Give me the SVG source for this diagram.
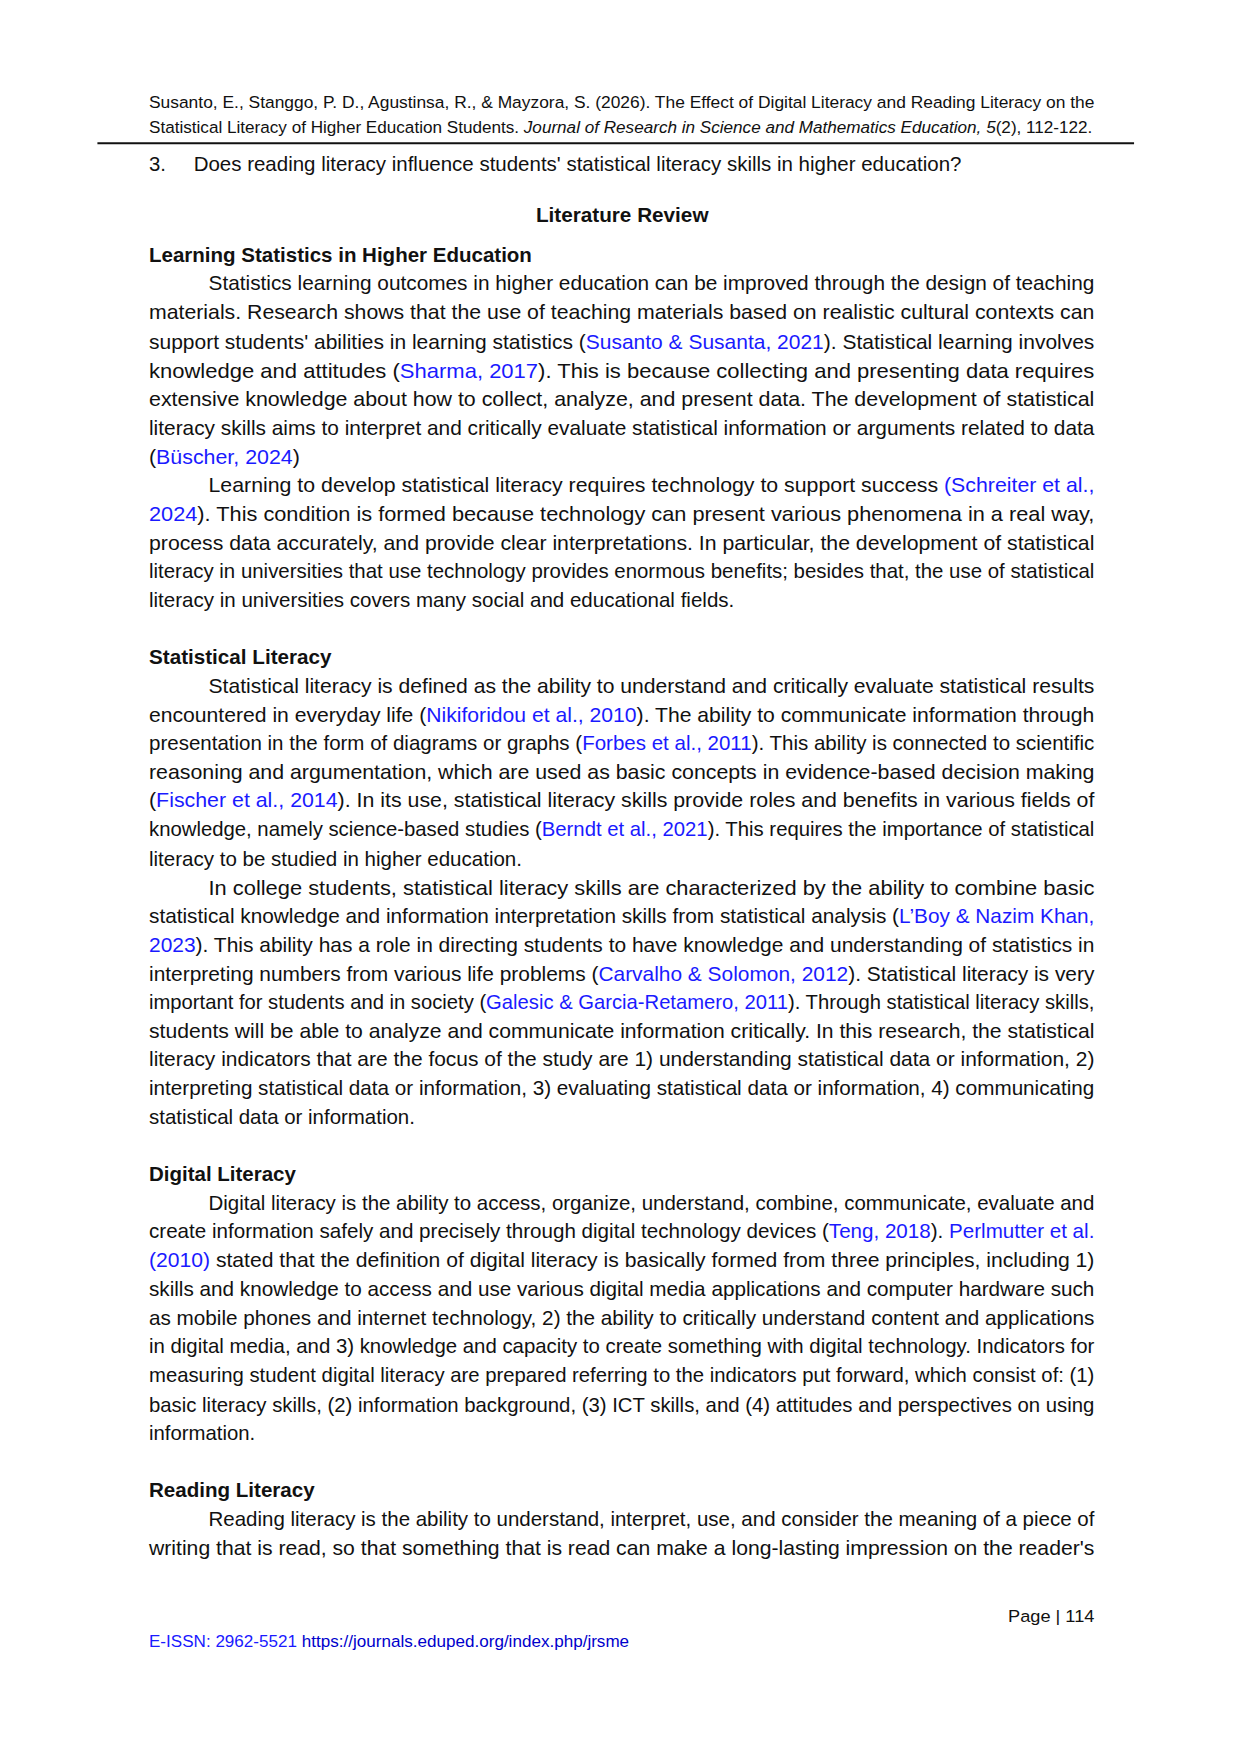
<svg xmlns="http://www.w3.org/2000/svg" width="1241" height="1753" viewBox="0 0 1241 1753">
<style>
text{font-family:"Liberation Sans",Arial,sans-serif;fill:#111;}
.b{font-size:20.5px;}
.h{font-size:20.5px;font-weight:bold;}
.hd{font-size:17.5px;}
.l{fill:#1a1aff;}
.i{font-style:italic;}
</style>
<rect width="1241" height="1753" fill="#fff"/>
<g transform="translate(149,0) scale(0.992) translate(-149,0)">
<g id="header">
<text class="hd" x="149" y="108.9" textLength="953" lengthAdjust="spacingAndGlyphs">Susanto, E., Stanggo, P. D., Agustinsa, R., &amp; Mayzora, S. (2026). The Effect of Digital Literacy and Reading Literacy on the</text>
<text class="hd" x="149" y="133.7" textLength="951" lengthAdjust="spacingAndGlyphs">Statistical Literacy of Higher Education Students. <tspan class="i">Journal of Research in Science and Mathematics Education, 5</tspan>(2), 112-122.</text>
<line x1="97" y1="144.4" x2="1142" y2="144.4" stroke="#111" stroke-width="2"/>
</g>
<g id="body">
<text class="b" x="149" y="172">3.</text>
<text class="b" x="194" y="172" textLength="774" lengthAdjust="spacingAndGlyphs">Does reading literacy influence students' statistical literacy skills in higher education?</text>
<text class="h" x="539" y="223.9" textLength="174" lengthAdjust="spacingAndGlyphs">Literature Review</text>
<text class="h" x="149" y="264.5" textLength="386" lengthAdjust="spacingAndGlyphs">Learning Statistics in Higher Education</text>
<text class="b" x="209" y="292.7" textLength="893" lengthAdjust="spacingAndGlyphs">Statistics learning outcomes in higher education can be improved through the design of teaching</text>
<text class="b" x="149" y="322" textLength="953" lengthAdjust="spacingAndGlyphs">materials. Research shows that the use of teaching materials based on realistic cultural contexts can</text>
<text class="b" x="149" y="351.4" textLength="953" lengthAdjust="spacingAndGlyphs">support students' abilities in learning statistics (<tspan class="l">Susanto &amp; Susanta, 2021</tspan>). Statistical learning involves</text>
<text class="b" x="149" y="380.7" textLength="953" lengthAdjust="spacingAndGlyphs">knowledge and attitudes (<tspan class="l">Sharma, 2017</tspan>). This is because collecting and presenting data requires</text>
<text class="b" x="149" y="408.9" textLength="953" lengthAdjust="spacingAndGlyphs">extensive knowledge about how to collect, analyze, and present data. The development of statistical</text>
<text class="b" x="149" y="438.2" textLength="953" lengthAdjust="spacingAndGlyphs">literacy skills aims to interpret and critically evaluate statistical information or arguments related to data</text>
<text class="b" x="149" y="467.6" textLength="152" lengthAdjust="spacingAndGlyphs">(<tspan class="l">Büscher, 2024</tspan>)</text>
<text class="b" x="209" y="495.8" textLength="893" lengthAdjust="spacingAndGlyphs">Learning to develop statistical literacy requires technology to support success <tspan class="l">(Schreiter et al.,</tspan></text>
<text class="b" x="149" y="525" textLength="953" lengthAdjust="spacingAndGlyphs"><tspan class="l">2024</tspan>). This condition is formed because technology can present various phenomena in a real way,</text>
<text class="b" x="149" y="554.4" textLength="953" lengthAdjust="spacingAndGlyphs">process data accurately, and provide clear interpretations. In particular, the development of statistical</text>
<text class="b" x="149" y="582.6" textLength="953" lengthAdjust="spacingAndGlyphs">literacy in universities that use technology provides enormous benefits; besides that, the use of statistical</text>
<text class="b" x="149" y="612" textLength="590" lengthAdjust="spacingAndGlyphs">literacy in universities covers many social and educational fields.</text>

<text class="h" x="149" y="669.5" textLength="184" lengthAdjust="spacingAndGlyphs">Statistical Literacy</text>
<text class="b" x="209" y="698.8" textLength="893" lengthAdjust="spacingAndGlyphs">Statistical literacy is defined as the ability to understand and critically evaluate statistical results</text>
<text class="b" x="149" y="728.1" textLength="953" lengthAdjust="spacingAndGlyphs">encountered in everyday life (<tspan class="l">Nikiforidou et al., 2010</tspan>). The ability to communicate information through</text>
<text class="b" x="149" y="756.3" textLength="953" lengthAdjust="spacingAndGlyphs">presentation in the form of diagrams or graphs (<tspan class="l">Forbes et al., 2011</tspan>). This ability is connected to scientific</text>
<text class="b" x="149" y="785.6" textLength="953" lengthAdjust="spacingAndGlyphs">reasoning and argumentation, which are used as basic concepts in evidence-based decision making</text>
<text class="b" x="149" y="813.8" textLength="953" lengthAdjust="spacingAndGlyphs">(<tspan class="l">Fischer et al., 2014</tspan>). In its use, statistical literacy skills provide roles and benefits in various fields of</text>
<text class="b" x="149" y="843.2" textLength="953" lengthAdjust="spacingAndGlyphs">knowledge, namely science-based studies (<tspan class="l">Berndt et al., 2021</tspan>). This requires the importance of statistical</text>
<text class="b" x="149" y="872.5" textLength="376" lengthAdjust="spacingAndGlyphs">literacy to be studied in higher education.</text>
<text class="b" x="209" y="901.8" textLength="893" lengthAdjust="spacingAndGlyphs">In college students, statistical literacy skills are characterized by the ability to combine basic</text>
<text class="b" x="149" y="930" textLength="953" lengthAdjust="spacingAndGlyphs">statistical knowledge and information interpretation skills from statistical analysis (<tspan class="l">L’Boy &amp; Nazim Khan,</tspan></text>
<text class="b" x="149" y="959.4" textLength="953" lengthAdjust="spacingAndGlyphs"><tspan class="l">2023</tspan>). This ability has a role in directing students to have knowledge and understanding of statistics in</text>
<text class="b" x="149" y="988.7" textLength="953" lengthAdjust="spacingAndGlyphs">interpreting numbers from various life problems (<tspan class="l">Carvalho &amp; Solomon, 2012</tspan>). Statistical literacy is very</text>
<text class="b" x="149" y="1016.9" textLength="953" lengthAdjust="spacingAndGlyphs">important for students and in society (<tspan class="l">Galesic &amp; Garcia-Retamero, 2011</tspan>). Through statistical literacy skills,</text>
<text class="b" x="149" y="1046.2" textLength="953" lengthAdjust="spacingAndGlyphs">students will be able to analyze and communicate information critically. In this research, the statistical</text>
<text class="b" x="149" y="1074.4" textLength="953" lengthAdjust="spacingAndGlyphs">literacy indicators that are the focus of the study are 1) understanding statistical data or information, 2)</text>
<text class="b" x="149" y="1103.8" textLength="953" lengthAdjust="spacingAndGlyphs">interpreting statistical data or information, 3) evaluating statistical data or information, 4) communicating</text>
<text class="b" x="149" y="1133.1" textLength="268" lengthAdjust="spacingAndGlyphs">statistical data or information.</text>

<text class="h" x="149" y="1190.6" textLength="148" lengthAdjust="spacingAndGlyphs">Digital Literacy</text>
<text class="b" x="209" y="1219.9" textLength="893" lengthAdjust="spacingAndGlyphs">Digital literacy is the ability to access, organize, understand, combine, communicate, evaluate and</text>
<text class="b" x="149" y="1248.1" textLength="953" lengthAdjust="spacingAndGlyphs">create information safely and precisely through digital technology devices (<tspan class="l">Teng, 2018</tspan>).  <tspan class="l">Perlmutter et al.</tspan></text>
<text class="b" x="149" y="1277.5" textLength="953" lengthAdjust="spacingAndGlyphs"><tspan class="l">(2010)</tspan> stated that the definition of digital literacy is basically formed from three principles, including 1)</text>
<text class="b" x="149" y="1306.8" textLength="953" lengthAdjust="spacingAndGlyphs">skills and knowledge to access and use various digital media applications and computer hardware such</text>
<text class="b" x="149" y="1336.1" textLength="953" lengthAdjust="spacingAndGlyphs">as mobile phones and internet technology, 2) the ability to critically understand content and applications</text>
<text class="b" x="149" y="1364.3" textLength="953" lengthAdjust="spacingAndGlyphs">in digital media, and 3) knowledge and capacity to create something with digital technology. Indicators for</text>
<text class="b" x="149" y="1393.6" textLength="953" lengthAdjust="spacingAndGlyphs">measuring student digital literacy are prepared referring to the indicators put forward, which consist of: (1)</text>
<text class="b" x="149" y="1422.9" textLength="953" lengthAdjust="spacingAndGlyphs">basic literacy skills, (2) information background, (3) ICT skills, and (4) attitudes and perspectives on using</text>
<text class="b" x="149" y="1451.2">information.</text>

<text class="h" x="149" y="1508.7" textLength="167" lengthAdjust="spacingAndGlyphs">Reading Literacy</text>
<text class="b" x="209" y="1538" textLength="893" lengthAdjust="spacingAndGlyphs">Reading literacy is the ability to understand, interpret, use, and consider the meaning of a piece of</text>
<text class="b" x="149" y="1567.4" textLength="953" lengthAdjust="spacingAndGlyphs">writing that is read, so that something that is read can make a long-lasting impression on the reader's</text>
</g>
<g id="footer">
<text class="hd" x="1102" y="1635" text-anchor="end" textLength="87" lengthAdjust="spacingAndGlyphs">Page | 114</text>
<text class="hd l" x="149" y="1660" textLength="484" lengthAdjust="spacingAndGlyphs">E-ISSN: 2962-5521 <tspan fill="#0000cc">https://journals.eduped.org/index.php/jrsme</tspan></text>
</g>
</g>
</svg>
